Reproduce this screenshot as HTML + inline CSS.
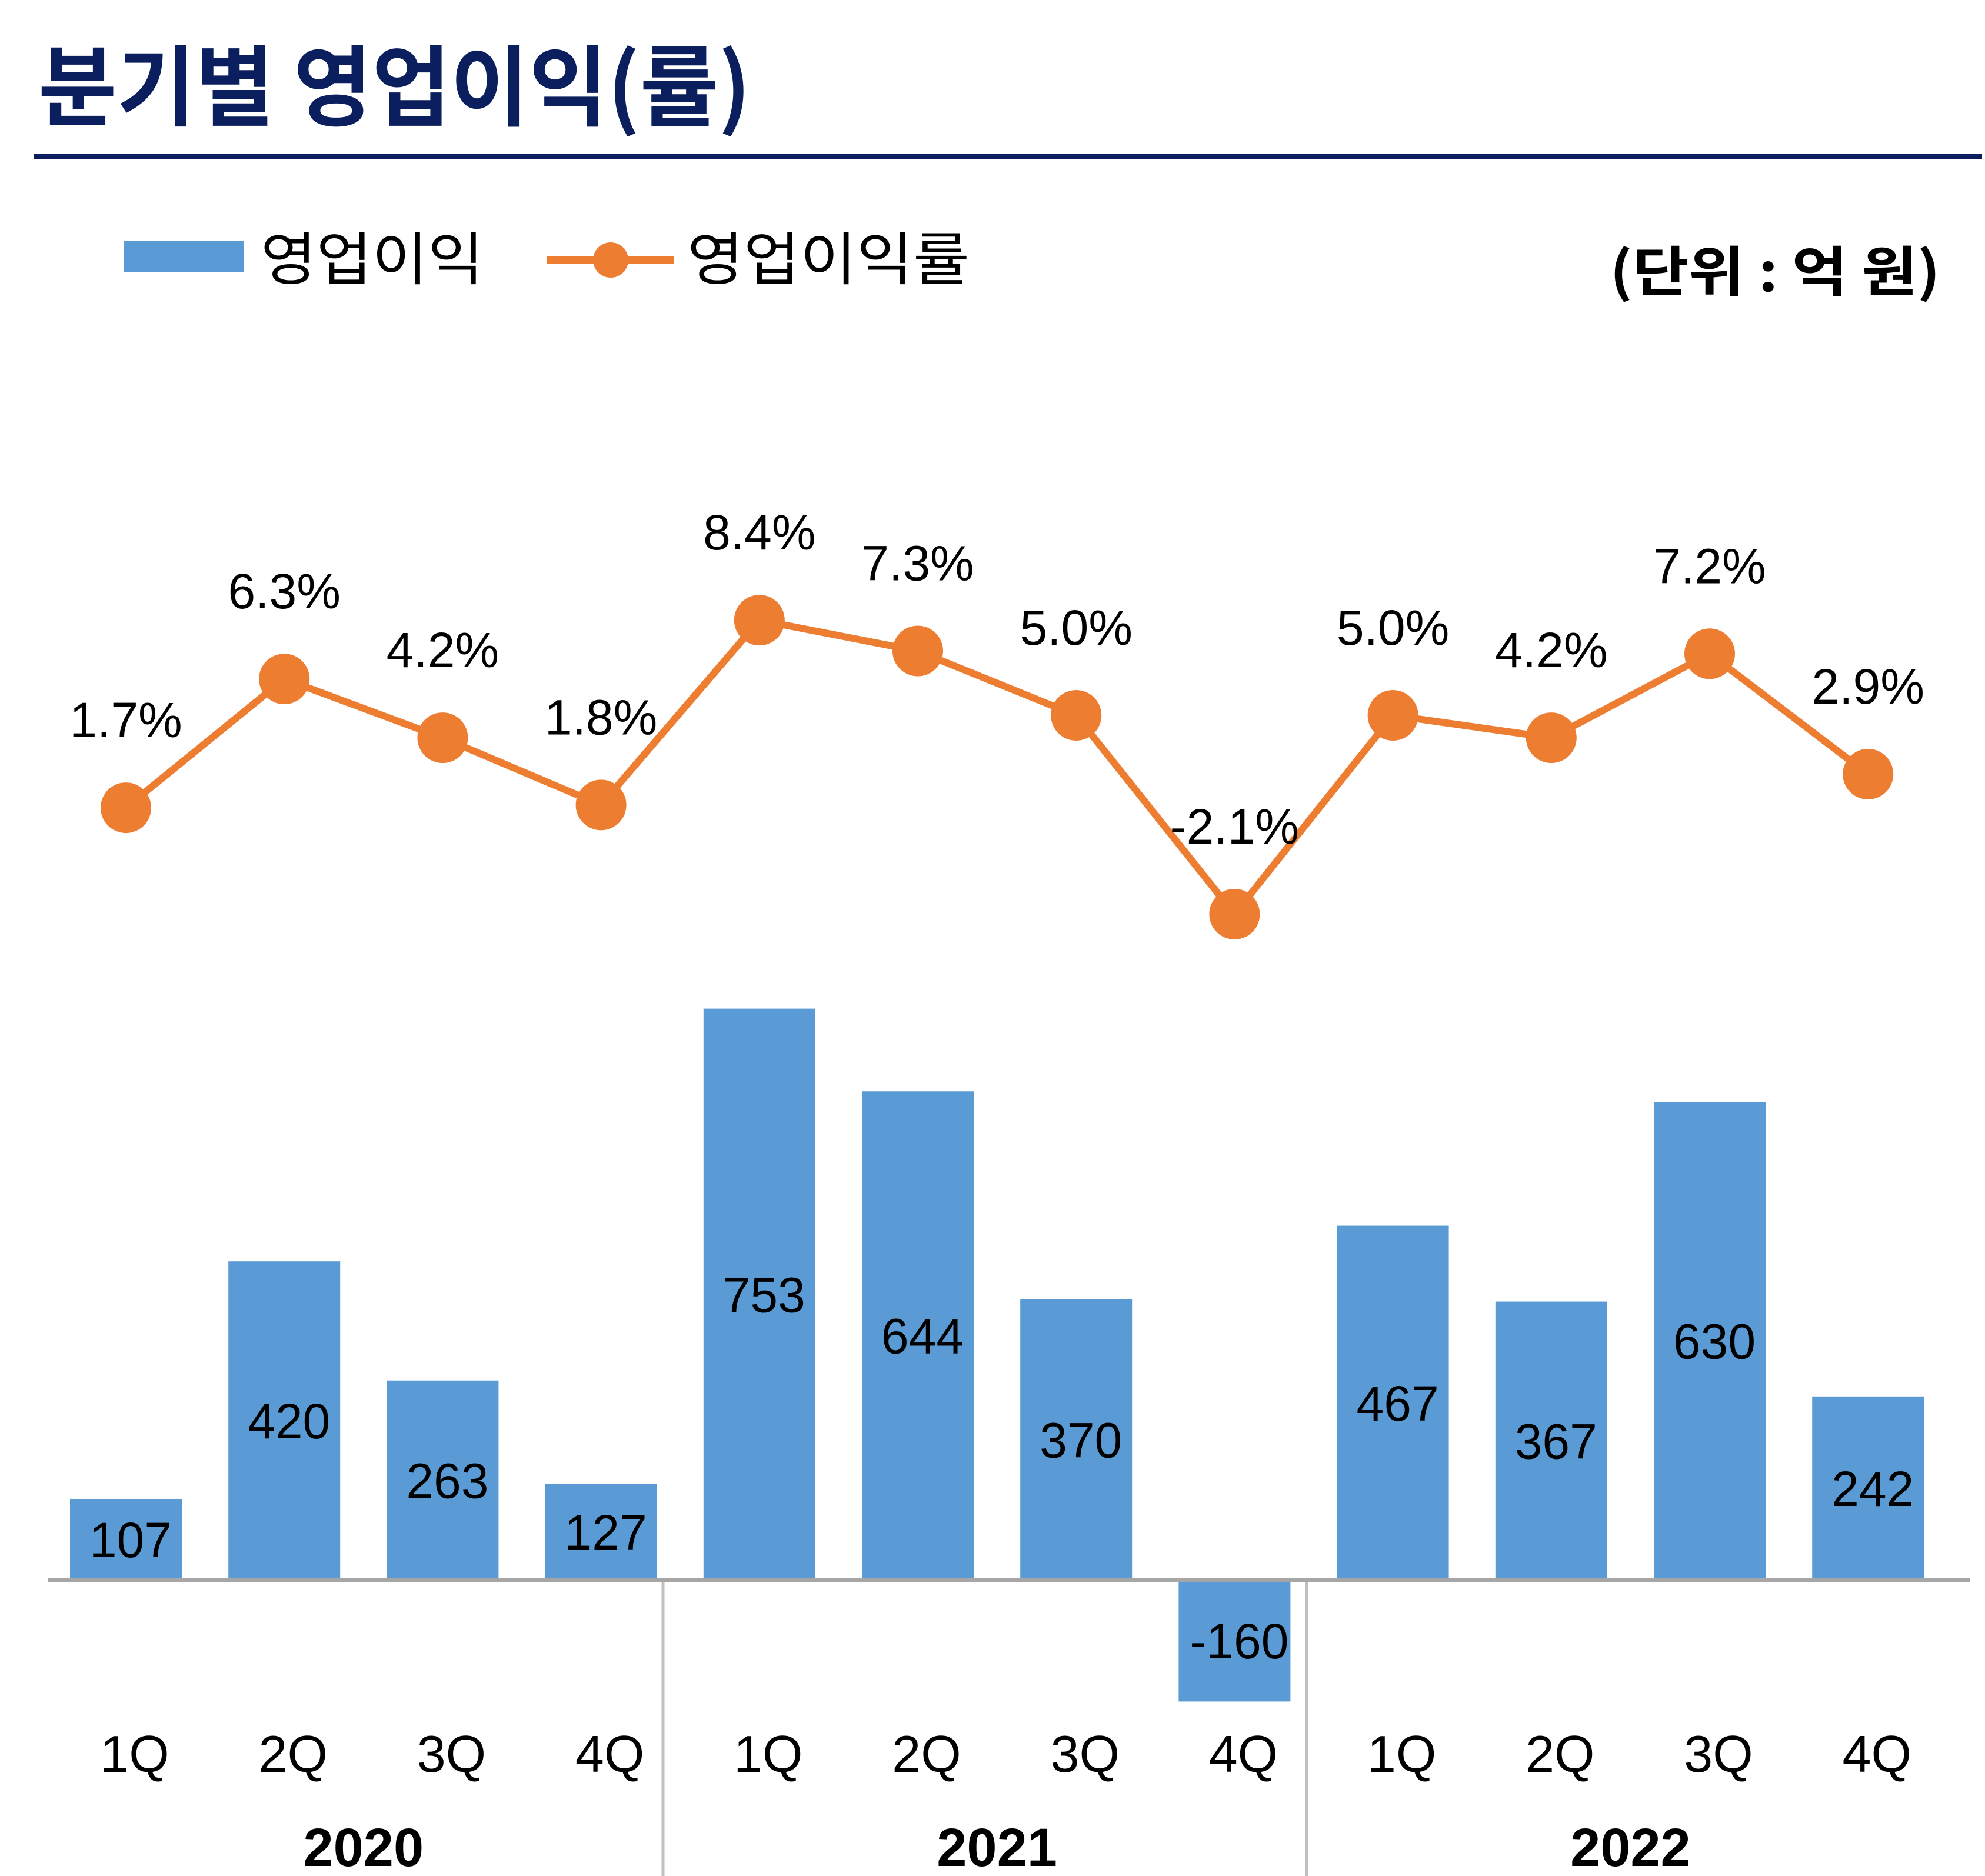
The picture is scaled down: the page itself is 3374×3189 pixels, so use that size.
<!DOCTYPE html>
<html><head><meta charset="utf-8"><style>
html,body{margin:0;padding:0;background:#fff;}
svg{display:block;}
text{font-family:"Liberation Sans","Noto Sans CJK KR",sans-serif;}
</style></head><body>
<svg id="chart" width="3374" height="3189" viewBox="0 0 3374 3189" xmlns="http://www.w3.org/2000/svg">
<text x="65" y="202" font-size="150" font-weight="bold" fill="#0b1f5e" textLength="1211" lengthAdjust="spacingAndGlyphs" style="font-family:'Noto Sans CJK KR',sans-serif">분기별 영업이익(률)</text>
<rect x="58" y="261" width="3311" height="9" fill="#0b1f5e"/>
<g>
<rect x="210" y="410" width="205" height="53" fill="#5b9bd5"/>
<text x="443" y="475" font-size="98" fill="#000" textLength="379" lengthAdjust="spacingAndGlyphs" style="font-family:'Noto Sans CJK KR',sans-serif">영업이익</text>
<line x1="930" y1="442" x2="1146" y2="442" stroke="#ed7d31" stroke-width="12"/>
<circle cx="1038" cy="442" r="30" fill="#ed7d31"/>
<text x="1168" y="475" font-size="98" fill="#000" textLength="480" lengthAdjust="spacingAndGlyphs" style="font-family:'Noto Sans CJK KR',sans-serif">영업이익률</text>
</g>
<text x="2736" y="495" font-size="92" font-weight="bold" fill="#000" textLength="562" lengthAdjust="spacingAndGlyphs" style="font-family:'Noto Sans CJK KR',sans-serif">(단위 : 억 원)</text>
<g id="bars"></g>
<g id="axis"></g>
<g id="line"></g>
<g id="labels"></g>
</svg>
<script>
const quarters = ["1Q","2Q","3Q","4Q","1Q","2Q","3Q","4Q","1Q","2Q","3Q","4Q"];
const years = ["2020","2021","2022"];
const profit = [107,420,263,127,753,644,370,-160,467,367,630,242];
const margin = [1.7,6.3,4.2,1.8,8.4,7.3,5.0,-2.1,5.0,4.2,7.2,2.9];
const marginLabels = ["1.7%","6.3%","4.2%","1.8%","8.4%","7.3%","5.0%","-2.1%","5.0%","4.2%","7.2%","2.9%"];

const NS = "http://www.w3.org/2000/svg";
function xc(i){ return 214 + i*269.2; }
function yBar(v){ return 2686 - v*1.29; }
function yLine(v){ return 1454 - v*47.6; }
function mk(tag, attrs, parent){
  const e = document.createElementNS(NS, tag);
  for (const k in attrs) e.setAttribute(k, attrs[k]);
  parent.appendChild(e);
  return e;
}
const gb = document.getElementById('bars');
const ga = document.getElementById('axis');
const gl = document.getElementById('line');
const gt = document.getElementById('labels');
const bw = 190;
profit.forEach((v,i)=>{
  const y0 = yBar(0), y1 = yBar(v);
  const r = mk('rect',{x:xc(i)-bw/2,y:Math.min(y0,y1),width:bw,height:Math.abs(y1-y0),fill:'#5b9bd5'},gb);
  
  
  const t = mk('text',{x:xc(i)+8,y:(y0+y1)/2+30,'font-size':84,'text-anchor':'middle',fill:'#000'},gt);
  t.textContent = String(v);
  
  
});
const ax = mk('line',{x1:82,y1:yBar(0),x2:3348,y2:yBar(0),stroke:'#a6a6a6','stroke-width':8},ga);


[1127,2221].forEach(x=>{
  const s = mk('line',{x1:x,y1:yBar(0)+4,x2:x,y2:3189,stroke:'#bfbfbf','stroke-width':5},ga);
  
  
});
quarters.forEach((q,i)=>{
  const t = mk('text',{x:xc(i)+15,y:3012,'font-size':88,'text-anchor':'middle',fill:'#000'},ga);
  t.textContent = q;
  
  
});
years.forEach((y,j)=>{
  const cx = (xc(j*4)+xc(j*4+3))/2;
  const t = mk('text',{x:cx,y:3172,'font-size':92,'font-weight':'bold','text-anchor':'middle',fill:'#000'},ga);
  t.textContent = y;
  
  
});
const pts = margin.map((v,i)=>xc(i)+','+yLine(v)).join(' ');
const pl = mk('polyline',{points:pts,fill:'none',stroke:'#ed7d31','stroke-width':12,'stroke-linejoin':'round'},gl);


margin.forEach((v,i)=>{
  const c = mk('circle',{cx:xc(i),cy:yLine(v),r:43,fill:'#ed7d31'},gl);
  
  
  const t = mk('text',{x:xc(i),y:yLine(v)-120,'font-size':84,'text-anchor':'middle',fill:'#000'},gt);
  t.textContent = marginLabels[i];
  
  
});
</script>
</body></html>
